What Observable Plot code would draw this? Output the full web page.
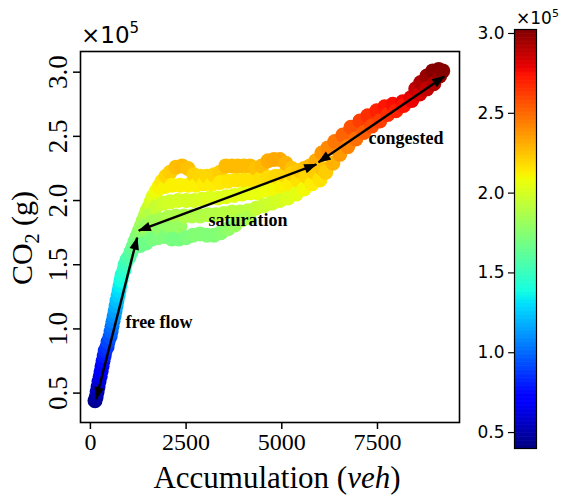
<!DOCTYPE html>
<html><head><meta charset="utf-8">
<script src="https://cdn.jsdelivr.net/npm/d3@7"></script>
<script src="https://cdn.jsdelivr.net/npm/@observablehq/plot@0.6"></script>
<style>
body{margin:0;background:#fff;}
#fig{position:relative;width:562px;height:495px;background:#fff;overflow:hidden;}
#main{position:absolute;left:0;top:0;}
#cbar{position:absolute;left:460px;top:0;}
</style></head><body><div id="fig"><div id="main"></div><div id="cbar"></div></div>
<script>
// ---- data (accumulation in veh, CO2 in units of 1e5 g) ----
const freeFlowAcc = [120,150,175,200,225,255,280,305,330,360,385,435,460,515,540,565,590,620,645,670,695,725,750,775,800,825,880,905,960,1010,1060,1115,1165,1220,1270,1325,1375,1430,1480,1530,1585,1635,1715,1795,1870,1975];
const freeFlowCo2 = [0.44,0.47,0.51,0.55,0.59,0.63,0.67,0.71,0.75,0.79,0.83,0.86,0.90,0.94,0.98,1.02,1.06,1.10,1.14,1.18,1.22,1.26,1.30,1.34,1.38,1.42,1.46,1.50,1.54,1.56,1.60,1.64,1.68,1.72,1.76,1.80,1.84,1.88,1.92,1.95,1.99,2.03,2.07,2.11,2.15,2.19];
const satTopAcc = [2080,2235,2395,2550,2705,2865,3045,3230,3385,3540,3700,3855,4010,4170,4325,4480,4640,4795,4950,5105,5265,5420,5580,5735];
const satTopCo2 = [2.22,2.26,2.27,2.25,2.20,2.19,2.19,2.20,2.22,2.27,2.27,2.27,2.27,2.27,2.25,2.27,2.31,2.32,2.32,2.29,2.25,2.23,2.25,2.27];
const satMid3Acc = [1765,1950,2130,2340,2550,2760,2965,3175,3385,3595,3805,4010,4220,4430,4640,4845,5055,5265,5475];
const satMid3Co2 = [2.09,2.11,2.12,2.12,2.12,2.12,2.13,2.13,2.14,2.15,2.16,2.16,2.16,2.17,2.18,2.19,2.20,2.21,2.23];
const satMid2Acc = [1560,1715,1900,2080,2290,2500,2705,2915,3125,3335,3540,3750,3960,4170,4380,4590,4795,5005,5210,5420,5630,5840,6045];
const satMid2Co2 = [1.89,1.95,1.98,1.99,2.00,2.00,2.00,2.01,2.02,2.02,2.03,2.04,2.05,2.06,2.06,2.08,2.09,2.11,2.13,2.16,2.19,2.22,2.25];
const satMid1Acc = [1430,1610,1820,2030,2235,2445,2655,2865,3070,3280,3490,3700,3905,4115,4325,4530,4740,4950,5160,5370,5580,5785,5995];
const satMid1Co2 = [1.80,1.83,1.85,1.87,1.88,1.88,1.88,1.88,1.89,1.89,1.90,1.91,1.91,1.92,1.94,1.96,1.98,2.00,2.02,2.05,2.09,2.13,2.17];
const satFillAcc = [1560,1820,2080,2340];
const satFillCo2 = [1.77,1.78,1.79,1.80];
const satLowAcc = [1300,1455,1610,1765,1950,2130,2315,2500,2680,2865,3045,3230,3410,3595,3775,3960,4140];
const satLowCo2 = [1.65,1.67,1.70,1.71,1.72,1.70,1.70,1.71,1.73,1.74,1.73,1.73,1.75,1.78,1.81,1.85,1.87];
const congUpAcc = [5890,6045,6205,6385,6595,6805,7040,7245,7480,7690,7900,8160,8370,8500,8630,8790,8945,9100,9205];
const congUpCo2 = [2.31,2.37,2.41,2.46,2.51,2.57,2.62,2.66,2.70,2.73,2.75,2.77,2.80,2.87,2.92,2.97,3.01,3.02,3.01];
const congLowAcc = [5995,6150,6335,6515,6725,6935,7145,7350,7560,7770,7980,8185,8395,8605,8790,8970,9125];
const congLowCo2 = [2.16,2.22,2.29,2.36,2.42,2.48,2.53,2.58,2.62,2.67,2.70,2.74,2.78,2.83,2.87,2.91,2.97];

const xTicks = [0, 2500, 5000, 7500];
const yTicks = [0.5, 1.0, 1.5, 2.0, 2.5, 3.0];
const cbarTicks = [0.5, 1.0, 1.5, 2.0, 2.5, 3.0];
const colorDomain = [0.40, 3.025];

const arrowFromAcc = [151, 1263, 5962];
const arrowFromCo2 = [0.453, 1.766, 2.298];
const arrowToAcc = [1222, 5902, 9243];
const arrowToCo2 = [1.711, 2.281, 2.967];

const regimeLabels = ["free flow", "saturation", "congested"];
const regimeLabelAcc = [916, 3083, 7267];
const regimeLabelCo2 = [1.054, 1.85, 2.489];

// ---- build tables ----
const branches = [
  [freeFlowAcc, freeFlowCo2], [satTopAcc, satTopCo2], [satMid3Acc, satMid3Co2],
  [satMid2Acc, satMid2Co2], [satMid1Acc, satMid1Co2], [satFillAcc, satFillCo2],
  [satLowAcc, satLowCo2], [congUpAcc, congUpCo2], [congLowAcc, congLowCo2]
];
const points = [];
branches.forEach(([a, c]) => a.forEach((v, i) => points.push({acc: v, co2: c[i]})));
const arrows = arrowFromAcc.map((v, i) => ({x1: v, y1: arrowFromCo2[i], x2: arrowToAcc[i], y2: arrowToCo2[i]}));
const labels = regimeLabels.map((t, i) => ({t, x: regimeLabelAcc[i], y: regimeLabelCo2[i]}));

// jet colormap
const jetR = [[0,0],[0.35,0],[0.66,1],[0.89,1],[1,0.5]];
const jetG = [[0,0],[0.125,0],[0.375,1],[0.64,1],[0.91,0],[1,0]];
const jetB = [[0,0.5],[0.11,1],[0.34,1],[0.65,0],[1,0]];
function seg(st, t) {
  for (let i = 1; i < st.length; i++) {
    if (t <= st[i][0]) {
      const [t0, v0] = st[i-1], [t1, v1] = st[i];
      return v0 + (v1 - v0) * (t - t0) / (t1 - t0);
    }
  }
  return st[st.length-1][1];
}
function jet(t) {
  t = Math.max(0, Math.min(1, t));
  const c = x => Math.round(255 * x);
  return `rgb(${c(seg(jetR,t))},${c(seg(jetG,t))},${c(seg(jetB,t))})`;
}
const colorOpts = {type: "linear", domain: colorDomain, interpolate: jet, clamp: true};

function filledHead(color, context) {
  const doc = (context && context.document) || document;
  const ns = "http://www.w3.org/2000/svg";
  const m = doc.createElementNS(ns, "marker");
  m.setAttribute("viewBox", "-13 -5.5 14 11");
  m.setAttribute("markerWidth", 14);
  m.setAttribute("markerHeight", 11);
  m.setAttribute("markerUnits", "userSpaceOnUse");
  m.setAttribute("orient", "auto-start-reverse");
  m.setAttribute("refX", 0);
  m.setAttribute("refY", 0);
  const p = doc.createElementNS(ns, "path");
  p.setAttribute("d", "M1,0L-12,-4.8L-12,4.8Z");
  p.setAttribute("fill", "black");
  p.setAttribute("stroke", "none");
  m.appendChild(p);
  return m;
}

function makeMain(marker) {
  return Plot.plot({
    width: 470, height: 495,
    marginLeft: 80, marginRight: 11, marginTop: 51, marginBottom: 73,
    style: {fontFamily: "Liberation Serif", background: "white", color: "black", overflow: "visible"},
    x: {domain: [-259, 9643]},
    y: {domain: [0.271, 3.161]},
    color: colorOpts,
    marks: [
      Plot.dot(points, {x: "acc", y: "co2", r: 7.5, fill: "co2", sort: "acc"}),
      Plot.link(arrows, {x1: "x1", y1: "y1", x2: "x2", y2: "y2", stroke: "black", strokeWidth: 2.4, markerStart: marker, markerEnd: marker}),
      Plot.text(labels, {x: "x", y: "y", text: "t", textAnchor: "start", fontWeight: "bold", fontSize: 18, fontFamily: "Liberation Serif", fill: "black"}),
      Plot.frame({stroke: "black", strokeWidth: 1.6}),
      Plot.axisX({ticks: xTicks, tickSize: 7, tickPadding: 3, fontSize: 24, strokeWidth: 1.5, label: null, tickFormat: d => String(d)}),
      Plot.axisY({ticks: yTicks, tickSize: 7, tickPadding: 7, tickRotate: -90, fontSize: 27, strokeWidth: 1.5, label: null, tickFormat: d => d.toFixed(1)})
    ]
  });
}
let mainPlot;
try { mainPlot = makeMain(filledHead); } catch (e) { mainPlot = makeMain("arrow"); }
document.getElementById("main").appendChild(mainPlot);

const ms = d3.select(mainPlot);
// y label
const yl = ms.append("text").attr("transform", "translate(32,238) rotate(-90)")
  .attr("text-anchor", "middle").attr("font-family", "Liberation Serif").attr("font-size", 30).attr("fill", "black");
yl.append("tspan").text("CO");
yl.append("tspan").attr("font-size", 20).attr("dy", 7).text("2");
yl.append("tspan").attr("dy", -7).text(" (g)");
// x label
const xl = ms.append("text").attr("x", 277).attr("y", 488)
  .attr("text-anchor", "middle").attr("font-family", "Liberation Serif").attr("font-size", 31).attr("fill", "black");
xl.append("tspan").text("Accumulation (");
xl.append("tspan").attr("font-style", "italic").text("veh");
xl.append("tspan").text(")");
// offset label
const ol = ms.append("text").attr("x", 81).attr("y", 43).attr("text-anchor", "start")
  .attr("font-family", "DejaVu Sans").attr("font-size", 23).attr("fill", "black");
ol.append("tspan").text("×10");
ol.append("tspan").attr("font-size", 15).attr("dy", -10).text("5");

// ---- colorbar ----
const step = 0.005;
const bands = d3.range(colorDomain[0], colorDomain[1], step);
const cbar = Plot.plot({
  width: 102, height: 495,
  marginLeft: 54, marginRight: 26, marginTop: 29, marginBottom: 47,
  style: {fontFamily: "DejaVu Sans", background: "transparent", color: "black", overflow: "visible"},
  x: {domain: [0, 1], axis: null},
  y: {domain: colorDomain},
  color: colorOpts,
  marks: [
    Plot.rect(bands, {x1: d => 0, x2: d => 1, y1: d => d, y2: d => Math.min(d + step * 1.8, colorDomain[1]), fill: d => d + step / 2}),
    Plot.frame({stroke: "black", strokeWidth: 1.2}),
    Plot.axisY({ticks: cbarTicks, tickSize: 6, tickPadding: 4, fontSize: 17, strokeWidth: 1.2, label: null, tickFormat: d => d.toFixed(1)})
  ]
});
document.getElementById("cbar").appendChild(cbar);
const cl = d3.select(cbar).append("text").attr("x", 56).attr("y", 24).attr("text-anchor", "start")
  .attr("font-family", "DejaVu Sans").attr("font-size", 17).attr("fill", "black");
cl.append("tspan").text("×10");
cl.append("tspan").attr("font-size", 11).attr("dy", -7).text("5");
</script></body></html>
